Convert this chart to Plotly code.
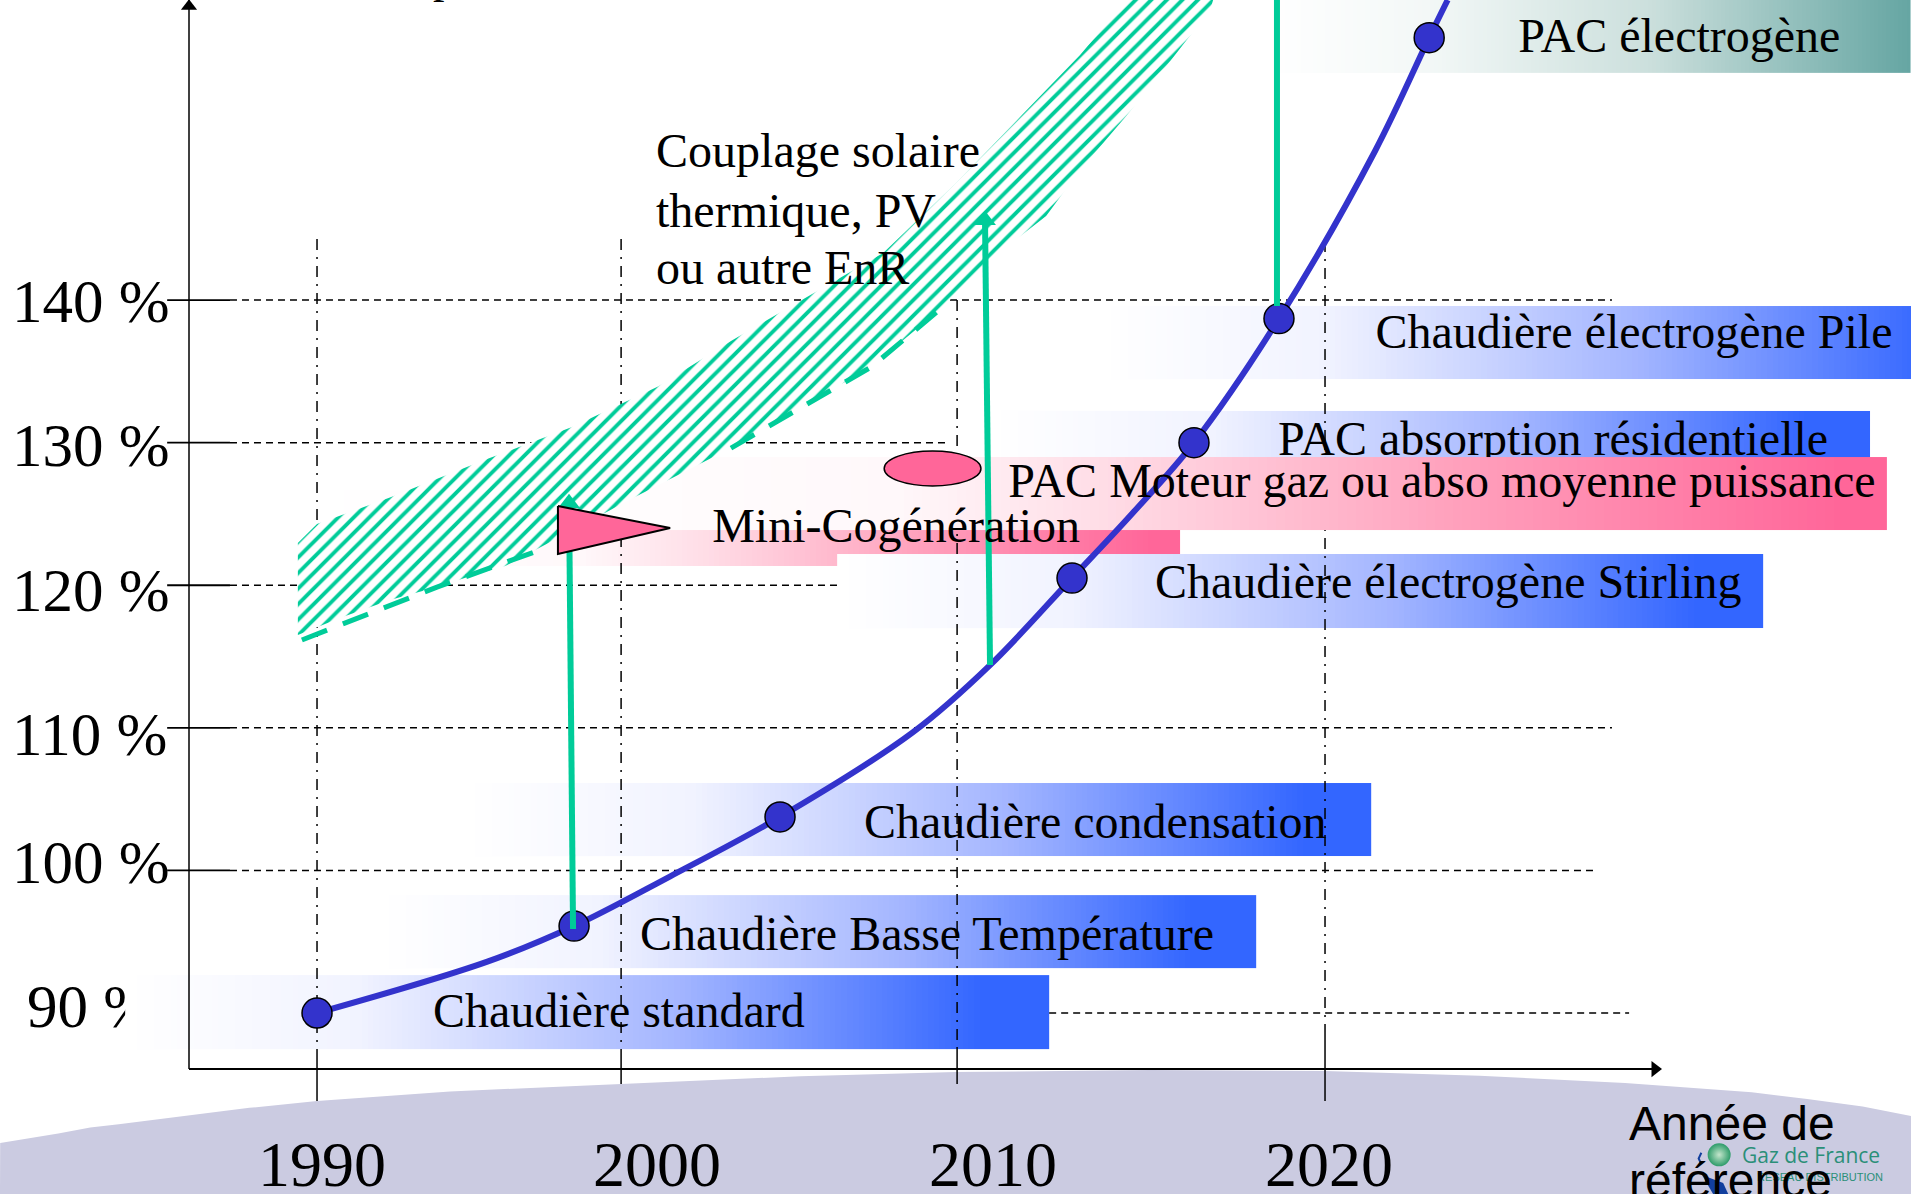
import numpy as np
import plotly.graph_objects as go

SERIF = "Liberation Serif"
SANS = "Liberation Sans"
BLUE = "#3333CC"
GREEN = "#00CC99"
PINK = "#FF6699"
XR = [1980.565, 2037.44]
YR = [77.31, 161.04]

# efficiency curve
curve_x = [1990.0, 1995.07, 1997.65, 2000.5, 2003.78, 2007.74, 2010.03, 2012.47, 2014.29, 2016.1, 2018.63,
           2021.49, 2023.1, 2023.65]
curve_y = [90.0, 93.6, 96.1, 99.57, 103.75, 109.7, 114.4, 120.5, 125.1, 130.0, 138.7,
           150.45, 158.4, 161.04]
tech_x = [1990.0, 1997.65, 2003.78, 2012.47, 2016.1, 2018.63, 2023.1]
tech_y = [90.0, 96.1, 103.75, 120.5, 130.0, 138.7, 158.4]

# hatched band
band_x = [1989.43, 1990.0, 1992.17, 1995.06, 1997.59, 2000.15, 2002.32, 2004.32, 2006.85, 2008.99, 2010.33, 2010.98,
          2012.71, 2013.3, 2014.11, 2014.35, 2016.87, 2016.67, 2016.58, 2015.89, 2015.0, 2014.11, 2012.71, 2011.7,
          2009.97, 2008.66, 2006.49, 2004.67, 2002.32, 1999.23, 1995.6, 1994.85, 1993.57, 1992.17, 1990.68, 1989.43]
band_y = [122.96, 124.29, 126.15, 128.85, 131.09, 133.93, 137.13, 139.86, 143.3, 148.13, 151.43, 152.97,
          157.18, 158.79, 161.04, 161.74, 161.74, 161.04, 160.34, 158.23, 155.57, 152.97, 149.12, 145.89,
          142.73, 139.58, 135.3, 132.85, 129.62, 125.9, 121.35, 120.86, 119.87, 118.96, 117.7, 116.51]
band_edge_x = [1989.55, 1993.57, 1996.88, None, 2002.32, 2006.49, 2008.66]
band_edge_y = [116.16, 119.87, 122.68, None, 129.62, 135.3, 139.58]

# bars: label, left, right, top, bottom, colour stops
bar_names = ["standard", "basse", "condensation", "mini", "stirling", "absorption", "pile", "electrogene", "moteur"]
bar_left = [1984.29, 1991.82, 1994.35, 1990.18, 2005.48, 2010.03, 2013.3, 2018.2, 1994.55]
bar_right = [2011.79, 2017.95, 2021.37, 2015.68, 2033.04, 2036.22, 2040.0, 2037.44, 2036.73]
bar_top = [92.66, 98.27, 106.13, 126.61, 122.19, 132.22, 139.58, 161.4, 128.99]
bar_bottom = [87.48, 93.16, 101.01, 121.35, 117.0, 127.03, 134.46, 155.92, 123.87]
BLUE_SCALE = [[0, "#FFFFFF"], [0.25, "#F1F3FF"], [0.6, "#A3B5FF"], [0.93, "#3366FF"], [1, "#3366FF"]]
PINK_SCALE = [[0, "#FFFFFF"], [0.3, "#FFF8FA"], [0.45, "#FFDCE6"], [0.7, "#FFA0BC"], [0.97, PINK], [1, PINK]]
TEAL_SCALE = [[0, "#FFFFFF"], [0.25, "#F3F8F7"], [0.6, "#CBDFDC"], [1, "#66A6A3"]]
bar_scales = [BLUE_SCALE, BLUE_SCALE, BLUE_SCALE, PINK_SCALE, BLUE_SCALE, BLUE_SCALE, BLUE_SCALE, TEAL_SCALE, PINK_SCALE]

# labels
under_labels = ["Chaudière standard", "Chaudière Basse Température", "Chaudière condensation",
                "Chaudière électrogène Stirling", "PAC absorption résidentielle", "Chaudière électrogène Pile",
                "PAC électrogène"]
under_x = [1993.45, 1999.61, 2006.28, 2014.94, 2018.6, 2021.5, 2025.75]
under_y = [89.85, 95.25, 103.1, 119.93, 129.95, 137.45, 158.25]
over_labels = ["Mini-Cogénération", "PAC Moteur gaz ou abso moyenne puissance",
               "Couplage solaire", "thermique, PV", "ou autre EnR"]
over_x = [2001.76, 2010.57, 2000.09, 2000.09, 2000.09]
over_y = [123.85, 127.05, 150.15, 145.95, 141.95]
pct_labels = ["140 %", "130 %", "120 %", "110 %", "100 %", "90 %"]
pct_x = [1980.92, 1980.92, 1980.92, 1980.92, 1980.92, 1981.37]
pct_y = [139.55, 129.45, 119.25, 109.15, 100.2, 90.1]
year_labels = ["1990", "2000", "2010", "2020"]
year_x = [1990.15, 2000.12, 2010.12, 2020.12]
year_y = [79.0, 79.0, 79.0, 79.0]
axis_labels = ["Année de", "référence"]
axis_label_x = [2029.05, 2029.05]
axis_label_y = [81.95, 77.95]

# grid
grid_levels = [140, 130, 120, 110, 100, 90]
grid_start = [1987.41, 1987.41, 1987.41, 1987.41, 1987.41, 2011.79]
grid_end = [2028.54, 2008.69, 2005.48, 2028.54, 2028.1, 2029.05]
tick_left = 1985.54
tick_right = 1987.41
vert_x = [1990.0, 1999.05, 2009.05, 2020.0]
vert_top = [144.28, 144.28, 140.0, 144.14]
vert_bottom = [87.48, 87.48, 87.48, 88.67]
stub_bottom = [83.83, 85.02, 85.02, 83.83]
axis_x0 = 1986.19
axis_y0 = 86.07
axis_x_tip = 2029.82

# swoosh
swoosh_x = [1980.57, 1982.3, 1983.25, 1984.1, 1986.01, 1987.99, 1990.0, 1993.96, 1999.05, 2004.39, 2008.99, 2014.8, 2020.0,
            2024.6, 2028.93, 2032.7, 2034.35, 2036.0, 2037.44]
swoosh_y = [80.88, 81.55, 81.98, 82.2, 82.78, 83.35, 83.83, 84.5, 85.02, 85.57, 85.86, 86.0, 85.93,
            85.6, 85.09, 84.45, 83.97, 83.45, 82.78]

# arrows
arrow_x = [[1997.62, 1997.5], [2010.03, 2009.88], [2018.57, 2018.57]]
arrow_y = [[95.89, 126.0], [114.4, 145.8], [139.58, 161.5]]
head_x = [1997.5, 2009.88]
head_y = [125.75, 145.6]

# mini-cogen triangle and ellipse
tri_x = [1997.17, 2000.51, 1997.17, 1997.17]
tri_y = [125.55, 124.01, 122.19, 125.55]
ell_x = [2006.88, 2009.76]
ell_y = [129.41, 126.96]

# logo
logo_ball_x = [2031.73]
logo_ball_y = [80.06]
logo_blue_x = [2031.22, 2031.85, 2032.0, 2031.55]
logo_blue_y = [78.64, 78.08, 77.31, 77.31]
logo_arc_x = [2031.2, 2031.12, 2031.2]
logo_arc_y = [80.2, 79.8, 79.4]

fig = go.Figure()


def txt(labels, xs, ys, size, ax, font=SERIF, pos="middle right", color="black"):
    fig.add_trace(go.Scatter(x=xs, y=ys, text=labels, mode="text", textposition=pos,
                             textfont=dict(family=font, size=size, color=color),
                             hoverinfo="skip", showlegend=False, xaxis=ax[0], yaxis=ax[1]))


def line(xs, ys, ax, color="black", width=1.5, dash="solid", shape="linear"):
    fig.add_trace(go.Scatter(x=xs, y=ys, mode="lines",
                             line=dict(color=color, width=width, dash=dash, shape=shape),
                             hoverinfo="skip", showlegend=False, xaxis=ax[0], yaxis=ax[1]))


def bar(i, ax):
    cols = 160
    edges = np.linspace(bar_left[i], bar_right[i], cols + 1)
    ramp = np.linspace(0, 1, cols)
    fig.add_trace(go.Heatmap(x=edges, y=[bar_bottom[i], bar_top[i]], z=[ramp], zmin=0, zmax=1,
                             colorscale=bar_scales[i], showscale=False, hoverinfo="skip",
                             xaxis=ax[0], yaxis=ax[1]))


A1, A2, A3 = ("x", "y"), ("x2", "y2"), ("x3", "y3")

# --- layer 1: backdrop and level labels
fig.add_trace(go.Scatter(x=[XR[0]] + swoosh_x + [XR[1], XR[0]], y=[YR[0]] + swoosh_y + [YR[0], YR[0]],
                         mode="lines", fill="toself", fillcolor="#CBCBE1", line=dict(width=0),
                         hoverinfo="skip", showlegend=False))
txt(pct_labels, pct_x, pct_y, 61, A1)

# --- layer 2: blue bars, grid and their labels
for k in range(8):
    bar(k, A2)
line([axis_x0, axis_x0], [axis_y0, YR[1]], A2)
line([axis_x0, axis_x_tip], [axis_y0, axis_y0], A2, width=2)
fig.add_trace(go.Scatter(x=[axis_x0, axis_x_tip], y=[160.6, axis_y0], mode="markers",
                         marker=dict(symbol=["triangle-up", "triangle-right"], size=14, color="black"),
                         hoverinfo="skip", showlegend=False, xaxis="x2", yaxis="y2"))
for lv, s, e in zip(grid_levels, grid_start, grid_end):
    line([s, e], [lv, lv], A2, dash="7px,5px", width=1.5)
    if lv != 90:
        line([tick_left, tick_right], [lv, lv], A2, width=1.8)
for vx, vt, vb, sb in zip(vert_x, vert_top, vert_bottom, stub_bottom):
    line([vx, vx], [vt, vb], A2, dash="11px,7px,2px,7px", width=1.5)
    line([vx, vx], [vb, sb], A2, width=1.5)
txt(under_labels, under_x, under_y, 48, A2)

# logo
fig.add_trace(go.Scatter(x=logo_ball_x, y=logo_ball_y, mode="markers",
                         marker=dict(size=23, color="#2E9C6A", gradient=dict(type="radial", color="#C5E6CC"),
                                     line=dict(width=0)),
                         hoverinfo="skip", showlegend=False, xaxis="x2", yaxis="y2"))
fig.add_trace(go.Scatter(x=logo_blue_x, y=logo_blue_y, mode="lines", fill="toself", fillcolor="#123F9E",
                         line=dict(width=0), hoverinfo="skip", showlegend=False, xaxis="x2", yaxis="y2"))
line(logo_arc_x, logo_arc_y, A2, color="#123F9E", width=2)
txt(["Gaz de France"], [2032.41], [79.85], 21, A2, font="Open Sans", color="#2A8F78")
txt(["RÉSEAU DISTRIBUTION"], [2032.86], [78.4], 11, A2, font=SANS, color="#2A8F78")
txt(axis_labels, axis_label_x, axis_label_y, 48, A2, font=SANS)
txt(year_labels, year_x, year_y, 64, A2, pos="middle center")

# --- layer 3: pink bar, band, curve, arrows, text
bar(8, A3)
fig.add_trace(go.Scatter(x=band_x, y=band_y, mode="lines", fill="toself", fillcolor="white",
                         fillpattern=dict(shape="/", fgcolor=GREEN, bgcolor="white", fgopacity=1, size=11, solidity=0.35),
                         line=dict(width=0), hoverinfo="skip", showlegend=False, xaxis="x3", yaxis="y3"))
line(band_edge_x, band_edge_y, A3, color=GREEN, width=5, dash="27px,17px")
line(curve_x, curve_y, A3, color=BLUE, width=6, shape="spline")
fig.add_trace(go.Scatter(x=tech_x, y=tech_y, mode="markers",
                         marker=dict(size=30, color=BLUE, line=dict(color="black", width=1.5)),
                         hoverinfo="skip", showlegend=False, xaxis="x3", yaxis="y3"))
for ax_x, ax_y in zip(arrow_x, arrow_y):
    line(ax_x, ax_y, A3, color=GREEN, width=6)
fig.add_trace(go.Scatter(x=head_x, y=head_y, mode="markers",
                         marker=dict(symbol="triangle-up", size=19, color=GREEN),
                         hoverinfo="skip", showlegend=False, xaxis="x3", yaxis="y3"))
fig.add_trace(go.Scatter(x=tri_x, y=tri_y, mode="lines", fill="toself", fillcolor=PINK,
                         line=dict(color="black", width=2), hoverinfo="skip", showlegend=False,
                         xaxis="x3", yaxis="y3"))
txt(over_labels, over_x, over_y, 48, A3)

hidden = dict(visible=False, showgrid=False, zeroline=False, fixedrange=True)
fig.update_layout(
    width=1911, height=1194, margin=dict(l=0, r=0, t=0, b=0),
    paper_bgcolor="white", plot_bgcolor="white", showlegend=False,
    xaxis=dict(range=XR, **hidden), yaxis=dict(range=YR, **hidden),
    xaxis2=dict(range=XR, overlaying="x", **hidden), yaxis2=dict(range=YR, overlaying="y", **hidden),
    xaxis3=dict(range=XR, overlaying="x", **hidden), yaxis3=dict(range=YR, overlaying="y", **hidden),
    shapes=[dict(type="circle", xref="x3", yref="y3", x0=ell_x[0], x1=ell_x[1], y0=ell_y[0], y1=ell_y[1],
                 fillcolor=PINK, line=dict(color="black", width=1.5), layer="above")],
    annotations=[dict(text="p", x=1993.78, y=160.76, xref="x", yref="y", xanchor="center", yanchor="bottom",
                      showarrow=False, font=dict(family=SERIF, size=46, color="black"))],
)
fig.write_html("out.html", config=dict(displayModeBar=False),
               post_script="document.body.style.margin='0';document.body.style.overflow='hidden';")
